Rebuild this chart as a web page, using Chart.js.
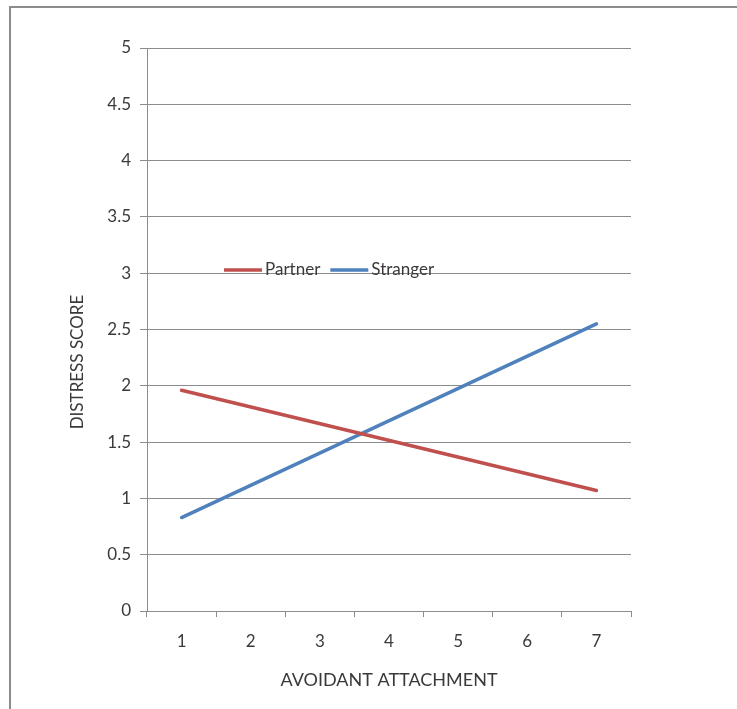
<!DOCTYPE html>
<html>
<head>
<meta charset="utf-8">
<script src="https://cdn.jsdelivr.net/npm/chart.js@4/dist/chart.umd.min.js"></script>
<style>
  html, body { margin: 0; padding: 0; background: #fff; overflow: hidden; }
  #frame { position: absolute; left: 9px; top: 6px; width: 800px; height: 800px; border: 2px solid #8c8c8c; }
  #chart { position: absolute; left: 0; top: 0; }
</style>
</head>
<body>
<div id="frame"></div>
<canvas id="chart" width="737" height="709"></canvas>
<script>
// data ---------------------------------->
const categories = ['1', '2', '3', '4', '5', '6', '7']
const partner = [1.96, null, null, null, null, null, 1.07]
const stranger = [0.83, null, null, null, null, null, 2.55]
const yTicks = [0, 0.5, 1, 1.5, 2, 2.5, 3, 3.5, 4, 4.5, 5]

const RED = '#c0504d'
const BLUE = '#4f81bd'
const GRID = '#8c8c8c'
const TEXT = '#3a3a3a'
const FONT = 'Lato, "Open Sans", sans-serif'

// legend drawn inside the plot, excel style
const innerLegend = {
    id: 'innerLegend',
    afterDatasetsDraw(chart) {
        const ctx = chart.ctx
        const area = chart.chartArea
        let x = area.left + 77
        const y = area.top + 222
        ctx.save()
        ctx.font = '17px ' + FONT
        ctx.textBaseline = 'middle'
        chart.data.datasets.forEach(ds => {
            ctx.strokeStyle = ds.borderColor
            ctx.lineWidth = 3.5
            ctx.beginPath()
            ctx.moveTo(x, y)
            ctx.lineTo(x + 38, y)
            ctx.stroke()
            x += 41
            ctx.fillStyle = TEXT
            ctx.fillText(ds.label, x, y)
            x += ctx.measureText(ds.label).width + 10
        })
        ctx.restore()
    }
}

// y title sits a bit below the middle of the plot, like the original
const yTitle = {
    id: 'yTitle',
    afterDraw(chart) {
        const ctx = chart.ctx
        ctx.save()
        ctx.translate(78, 362)
        ctx.rotate(-Math.PI / 2)
        ctx.font = '17px ' + FONT
        ctx.fillStyle = TEXT
        ctx.textAlign = 'center'
        ctx.textBaseline = 'middle'
        ctx.fillText('DISTRESS SCORE', 0, 0)
        ctx.restore()
    }
}

new Chart(document.getElementById('chart'), {
    type: 'line',
    data: {
        labels: categories,
        datasets: [
            {label: 'Partner', data: partner, borderColor: RED, backgroundColor: RED},
            {label: 'Stranger', data: stranger, borderColor: BLUE, backgroundColor: BLUE}
        ]
    },
    options: {
        responsive: false,
        animation: false,
        spanGaps: true,
        layout: {padding: {top: 48, right: 106, left: 0, bottom: 0}},
        elements: {
            line: {borderWidth: 3.5, borderCapStyle: 'round', tension: 0},
            point: {radius: 0, hoverRadius: 0}
        },
        plugins: {
            legend: {display: false},
            tooltip: {enabled: false}
        },
        scales: {
            x: {
                offset: true,
                grid: {offset: true, drawOnChartArea: false, drawTicks: true, tickLength: 6, color: GRID},
                border: {color: GRID, width: 1},
                ticks: {color: TEXT, font: {family: FONT, size: 17}, padding: 14, maxRotation: 0},
                title: {display: true, text: 'AVOIDANT ATTACHMENT', color: TEXT,
                        font: {family: FONT, size: 18}, padding: {top: 0, bottom: 18}},
                afterFit: s => { s.height = 98 }
            },
            y: {
                min: 0,
                max: 5,
                afterBuildTicks: s => { s.ticks = yTicks.map(v => ({value: v})) },
                grid: {color: GRID, tickLength: 7},
                border: {color: GRID, width: 1},
                ticks: {color: TEXT, font: {family: FONT, size: 17}, padding: 9,
                        callback: v => String(v)},
                afterFit: s => { s.width = 147 }
            }
        }
    },
    plugins: [innerLegend, yTitle]
})
</script>
</body>
</html>
